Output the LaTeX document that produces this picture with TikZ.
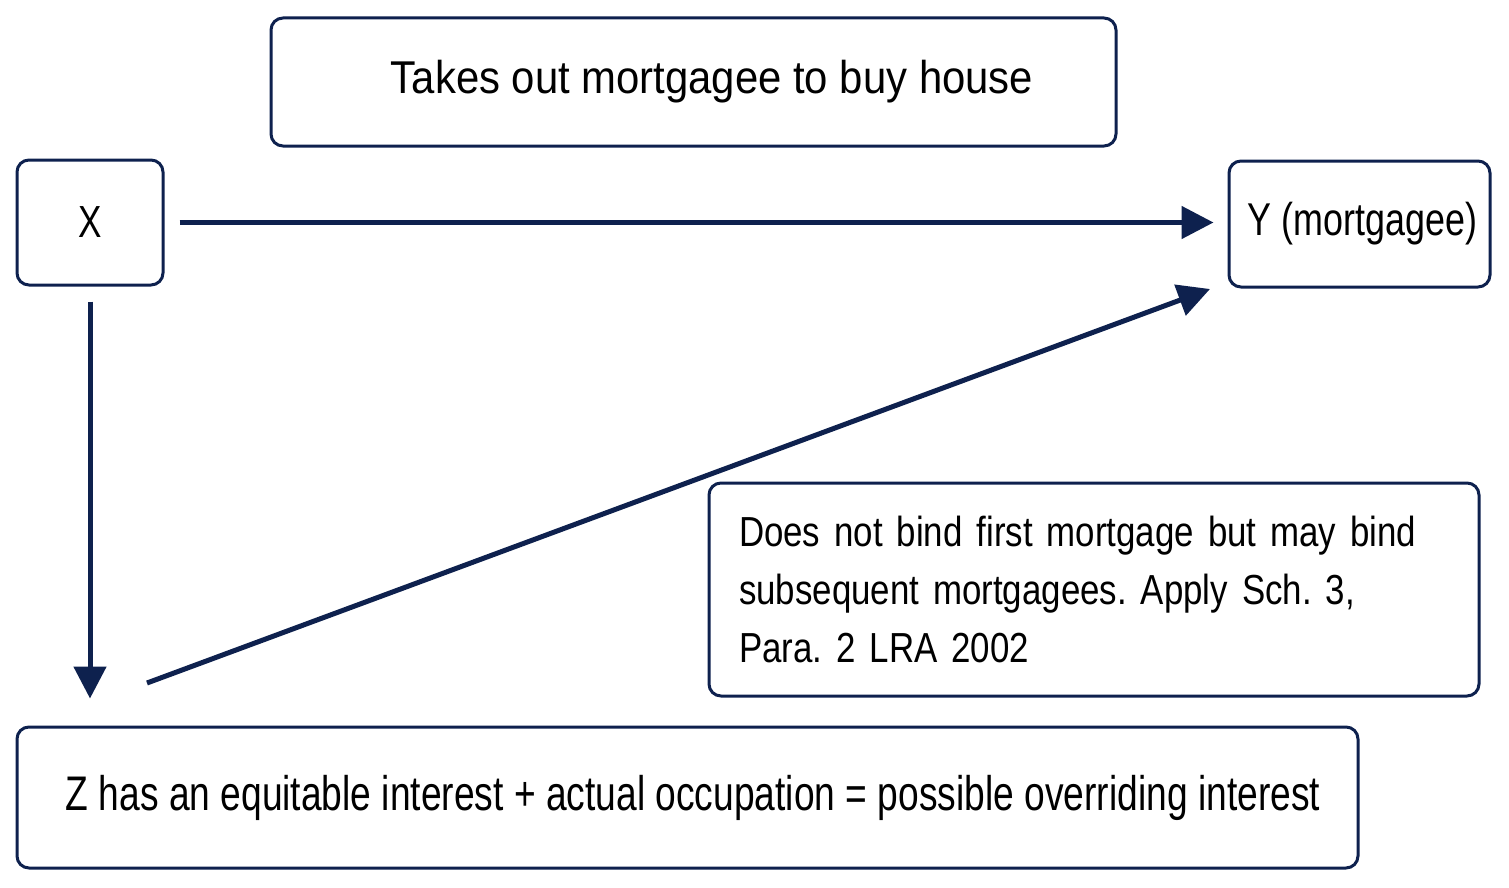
\documentclass[tikz,border=0pt]{standalone}
\usepackage{fontspec}
\setmainfont{Liberation Sans}[FakeStretch=0.78]
\newfontfamily\topfont{Liberation Sans}[FakeStretch=0.91]
\newfontfamily\botfont{Liberation Sans}[FakeStretch=0.765]
\newfontfamily\ryfont{Liberation Sans}[FakeStretch=0.83]
\usetikzlibrary{arrows.meta,calc}
\definecolor{navy}{RGB}{14,33,78}
\begin{document}
\frenchspacing
\begin{tikzpicture}[x=0.5pt,y=-0.5pt,
  box/.style={draw=navy,line width=1.5pt,rounded corners=6pt,inner sep=0pt,font=\fontsize{22.5}{26}\selectfont},
  conn/.style={draw=navy,line width=2.5pt,-{Triangle[length=16pt,width=16pt]}}]
\useasboundingbox (0,0) rectangle (1509,888);
\node[box,minimum width=845*0.5pt,minimum height=128*0.5pt,font=\topfont\fontsize{23}{26}\selectfont] (T) at (693.5,82) {\hspace*{18.5pt}Takes out mortgagee to buy house};
\node[box,minimum width=146*0.5pt,minimum height=125*0.5pt] (X) at (90,222.5) {X};
\node[box,minimum width=261*0.5pt,minimum height=126*0.5pt,font=\fontsize{23}{26}\selectfont] (Y) at (1359.5,224) {\hspace*{3pt}Y (mortgagee)};
\node[box,minimum width=770*0.5pt,minimum height=213*0.5pt,text width=710*0.5pt,align=left,
  font=\ryfont\fontsize{21}{28.8}\selectfont] (R) at (1094,589.5) {Does not bind first mortgage but may bind subsequent mortgagees. Apply Sch. 3, Para. 2 LRA 2002};
\node[box,minimum width=1341*0.5pt,minimum height=141*0.5pt,font=\botfont\fontsize{24.3}{28}\selectfont] (Z) at (687.5,797.5) {\hspace*{5.5pt}Z has an equitable interest + actual occupation = possible overriding interest};
\draw[conn,shorten <=7.5pt,shorten >=7pt] (X.east) -- (X.east -| Y.west);
\draw[conn,shorten <=7.5pt,shorten >=13.5pt] (X.south) -- (X.south |- Z.north);
\coordinate (d1) at (147,683);
\coordinate (d2) at (1210,289);
\draw[conn] (d1) -- (d2);
\end{tikzpicture}
\end{document}
